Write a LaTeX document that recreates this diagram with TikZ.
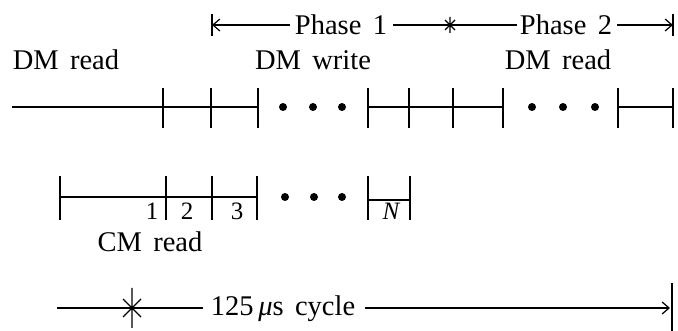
\documentclass[tikz,border=0pt]{standalone}
\usepackage{fontspec}
\setmainfont{Liberation Serif}
\usetikzlibrary{arrows.meta}
\begin{document}
\begin{tikzpicture}[x=1pt,y=-1pt,line width=1.7pt,
  lbl/.style={font=\fontsize{28.5}{30}\selectfont,inner sep=0pt,anchor=base},
  num/.style={font=\fontsize{25}{27}\selectfont,inner sep=0pt,anchor=base},
  thinline/.style={line width=1.2pt},
  dotmark/.style={circle,fill,inner sep=0pt,minimum size=8pt},
  tipend/.style={thinline,-{Straight Barb[length=7pt,width=12pt,line width=1.2pt]}}]
\useasboundingbox (0,0) rectangle (678,331);
% ---- top row: DM timeline
\coordinate (r0) at (12,107);
\coordinate (r1) at (258,107);
\coordinate (r2) at (368,107);
\coordinate (r3) at (503,107);
\coordinate (r4) at (618,107);
\coordinate (r5) at (673,107);
\draw (r0) -- (r1);
\draw (r2) -- (r3);
\draw (r4) -- (r5);
\foreach \x in {163,211,258,368,409,453,503,618,673}
  \draw (\x,88) -- (\x,128);
\foreach \x/\n in {283/a,313/b,342/c,532/d,563/e,595/f}
  \node[dotmark] (d\n) at (\x,107) {};
% ---- labels top
\node[lbl] (dmr1) at (66,70) {DM\hspace{0.15em} read};
\node[lbl] (dmw) at (313,70) {DM\hspace{0.15em} write};
\node[lbl] (dmr2) at (558,70) {DM\hspace{0.15em} read};
% ---- phase arrows
\node[lbl] (ph1) at (341,35) {Phase\hspace{0.15em} 1};
\node[lbl] (ph2) at (566,35) {Phase\hspace{0.15em} 2};
\coordinate (pl) at (212,25);
\coordinate (pm) at (450,25);
\coordinate (pr) at (673,25);
\draw[tipend] (290,25) -- (pl);
\draw[thinline] (212,14) -- (212,36);
\draw[thinline] (393,25) -- (pm) -- (517,25);
\draw[thinline] (450,17) -- (450,33) (445,20) -- (455,30) (445,30) -- (455,20);
\draw[tipend] (617,25) -- (pr);
\draw[thinline] (673,14) -- (673,36);
% ---- CM row
\coordinate (c0) at (60,197);
\coordinate (c1) at (257,197);
\draw (c0) -- (c1);
\foreach \x in {60,166,212,257,368,410}
  \draw (\x,176) -- (\x,220);
\coordinate (n0) at (368,200);
\coordinate (n1) at (410,200);
\draw (n0) -- (n1);
\foreach \x/\n in {285/g,314/h,342/i}
  \node[dotmark] (d\n) at (\x,197) {};
\node[num] (l1) at (152,220) {1};
\node[num] (l2) at (187,220) {2};
\node[num] (l3) at (237,220) {3};
\node[num] (lN) at (391,220) {\itshape N};
\node[lbl] (cmr) at (150,252) {CM\hspace{0.15em} read};
% ---- cycle arrow
\node[lbl] (cyc) at (283,316) {125\,{\itshape μ}s\hspace{0.15em} cycle};
\coordinate (b0) at (57,308);
\coordinate (bs) at (132,308);
\coordinate (b1) at (670,308);
\draw[thinline] (b0) -- (bs) -- (203,308);
\draw[thinline] (132,288) -- (132,328) (123,299) -- (141,317) (123,317) -- (141,299);
\draw[tipend] (365,308) -- (b1);
\draw[thinline] (672,283) -- (672,331);
\end{tikzpicture}
\end{document}
